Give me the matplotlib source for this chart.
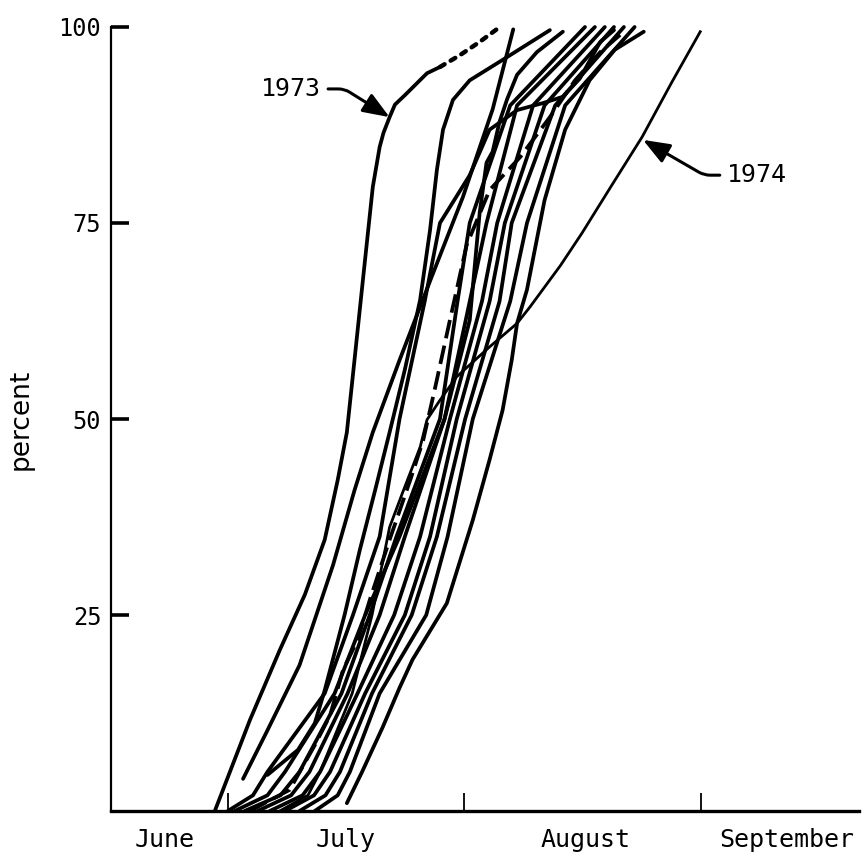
import matplotlib
matplotlib.use("Agg")
import matplotlib.pyplot as plt

# ---------------- data (x = days after July 1, y = percent) ----------------
month_labels = ["June", "July", "August", "September"]
month_label_days = [-8.3, 15.4, 46.9, 73.2]
month_boundary_days = [0, 31, 62]
y_ticks = [25, 50, 75, 100]

c1973_days = [-1.7, 2.9, 6.8, 10.1, 12.7, 14.4, 15.6, 16.6, 17.7, 19.0, 19.9, 20.4, 21.2, 21.9, 23.2, 26.1, 27.8]
c1973_pct = [0, 11.6, 20.5, 27.6, 34.6, 42.2, 48.3, 57.5, 67.7, 79.6, 84.7, 86.5, 88.5, 90.1, 91.3, 94.1, 94.9]
c1973_dot_days = [27.8, 30.4, 33.0, 35.5]
c1973_dot_pct = [94.9, 96.4, 98.1, 99.9]

cB_days = [2.0, 5.1, 9.4, 13.8, 16.6, 19.0, 22.5, 26.7, 30.8, 34.7, 37.4]
cB_pct = [4.1, 10.1, 18.6, 31.4, 40.9, 48.3, 57.5, 68.1, 78.3, 89.5, 99.7]

cC_days = [5.2, 9.2, 11.4, 12.7, 15.3, 17.3, 19.3, 21.2, 23.2, 25.2, 26.5, 27.4, 28.2, 29.5, 31.7, 36.0, 42.2]
cC_pct = [4.6, 7.8, 11.2, 15.4, 25.0, 33.3, 40.9, 48.3, 56.3, 65.2, 74.1, 81.8, 86.9, 90.7, 93.2, 95.8, 99.6]

cK1_days = [0, 3.3, 5.2, 12.7, 16.4, 19.9, 22.5, 25.8, 27.8, 31.7, 34.3, 37.9, 41.3, 43.9, 46.1, 48.8, 50.6]
cK1_pct = [0, 2, 5, 15, 25, 35, 50, 65, 75, 81.1, 86.9, 89.4, 90.3, 91.1, 93.4, 98.1, 99.6]

cD_days = [0.9, 5.2, 7.5, 14.0, 18.0, 22.5, 28.4, 31.7, 33.0, 33.9, 34.7, 35.6, 36.6, 37.9, 40.5, 43.9]
cD_pct = [0, 2, 5, 15, 25, 35, 50, 62.6, 76.3, 82.7, 84.1, 87.9, 90.8, 93.9, 96.8, 99.4]

k_levels = [0, 2, 5, 15, 25, 35, 50, 65, 75, 90, 100]
cK3_days = [2.2, 6.9, 9.4, 14.9, 18.6, 22.1, 27.8, 30.1, 31.7, 37.0, 46.8]
cK4_days = [3.9, 8.3, 10.7, 15.7, 19.9, 23.2, 28.4, 31.7, 33.9, 37.9, 48.1]
cK5_days = [5.5, 9.8, 12.1, 17.0, 21.8, 25.2, 29.1, 33.3, 35.3, 40.0, 49.4]
cK6_days = [7.5, 11.3, 13.4, 18.0, 23.2, 26.5, 30.0, 34.3, 36.3, 41.5, 50.6]
cK7_days = [9.4, 12.8, 14.7, 18.9, 24.1, 27.4, 31.1, 35.6, 37.2, 42.9, 51.9]
cK8_days = [11.4, 14.4, 16.0, 19.9, 26.0, 28.8, 32.1, 37.0, 39.2, 44.2, 53.3]

cR_days = [15.6, 17.6, 20.3, 22.5, 24.2, 28.7, 32.1, 34.3, 36.0, 37.2, 37.9, 39.2, 41.5, 44.2, 47.4, 50.7, 54.5]
cR_pct = [1.0, 5, 10.7, 15.7, 19.3, 26.5, 37.1, 44.8, 51.1, 57.5, 62.2, 66.5, 77.9, 86.9, 93.2, 97.1, 99.4]

c1974_days = [6.8, 10.5, 12.1, 16.3, 18.9, 21.2, 22.9, 25.2, 26.1, 27.8, 30.0, 34.3, 37.9, 39.6, 43.6, 46.4, 50.3, 54.3, 58.2, 61.9]
c1974_pct = [0, 2, 5, 15, 25, 36.2, 40.6, 46.4, 49.9, 52.4, 55.4, 59.2, 62.2, 64.3, 69.6, 73.7, 79.8, 86.0, 93.0, 99.4]

cDash_days = [2.9, 8.1, 11.4, 13.4, 15.1, 17.0, 18.6, 21.2, 23.9, 25.6, 27.1, 29.1, 31.3, 34.3, 38.3, 42.2, 45.5, 48.8, 51.4]
cDash_pct = [0, 2.7, 8.4, 12.2, 18.0, 21.8, 26.9, 34.6, 42.2, 47.3, 53.7, 62.6, 72.2, 79.2, 83.4, 88.5, 93.2, 96.8, 99.0]

# ---------------- figure ----------------
fig = plt.figure(figsize=(8.64, 8.63), dpi=100)
ax = fig.add_axes([111 / 864, 52 / 863, 748 / 864, 784 / 863])
ax.set_xlim(-15.3, 82.7)
ax.set_ylim(0, 100)

line_kw = dict(color="black", lw=2.7, solid_joinstyle="round", solid_capstyle="round",
               clip_on=False, zorder=3)

solid_curves = [
    (c1973_days, c1973_pct),
    (cB_days, cB_pct),
    (cC_days, cC_pct),
    (cK1_days, cK1_pct),
    (cD_days, cD_pct),
    (cK3_days, k_levels),
    (cK4_days, k_levels),
    (cK5_days, k_levels),
    (cK6_days, k_levels),
    (cK7_days, k_levels),
    (cK8_days, k_levels),
    (cR_days, cR_pct),
]
for xs, ys in solid_curves:
    ax.plot(xs, ys, **line_kw)

ax.plot(c1974_days, c1974_pct, color="black", lw=2.0, solid_joinstyle="round",
        clip_on=False, zorder=3)
ax.plot(cDash_days, cDash_pct, color="black", lw=2.7, linestyle=(0, (5, 2)),
        clip_on=False, zorder=3)
ax.plot(c1973_dot_days, c1973_dot_pct, color="black", lw=3.2, linestyle=(0, (1.2, 1.6)),
        dash_capstyle="round", clip_on=False, zorder=3)

# ---------------- axes styling ----------------
for s in ["top", "right"]:
    ax.spines[s].set_visible(False)
ax.spines["left"].set_linewidth(1.6)
ax.spines["bottom"].set_linewidth(2.4)

mono = "DejaVu Sans Mono"
ax.set_yticks(y_ticks)
ax.set_yticklabels([str(v) for v in y_ticks], fontfamily=mono, fontsize=17)
ax.tick_params(axis="y", direction="in", length=13, width=2.6, pad=7)

ax.set_xticks(month_label_days)
ax.set_xticklabels(month_labels, fontfamily=mono, fontsize=18)
ax.tick_params(axis="x", which="major", length=0, pad=12)
ax.set_xticks(month_boundary_days, minor=True)
ax.tick_params(axis="x", which="minor", direction="in", length=13, width=1.3)

ax.set_ylabel("percent", fontsize=19, fontfamily="DejaVu Sans")
ax.yaxis.set_label_coords(-0.104, 0.5)

# ---------------- annotations ----------------
arrow = dict(arrowstyle="-|>,head_length=0.9,head_width=0.35", color="black", lw=2.2,
             shrinkA=3, shrinkB=0)
ax.annotate("1973", xy=(21.2, 88.5), xytext=(8.3, 92.1),
            fontsize=18, fontfamily=mono, ha="center", va="center",
            arrowprops=dict(arrow, connectionstyle="angle,angleA=0,angleB=148,rad=6"))
ax.annotate("1974", xy=(54.4, 85.6), xytext=(69.3, 81.1),
            fontsize=18, fontfamily=mono, ha="center", va="center",
            arrowprops=dict(arrow, connectionstyle="angle,angleA=180,angleB=-30,rad=6"))

fig.savefig("out.png", dpi=100, facecolor="white")
